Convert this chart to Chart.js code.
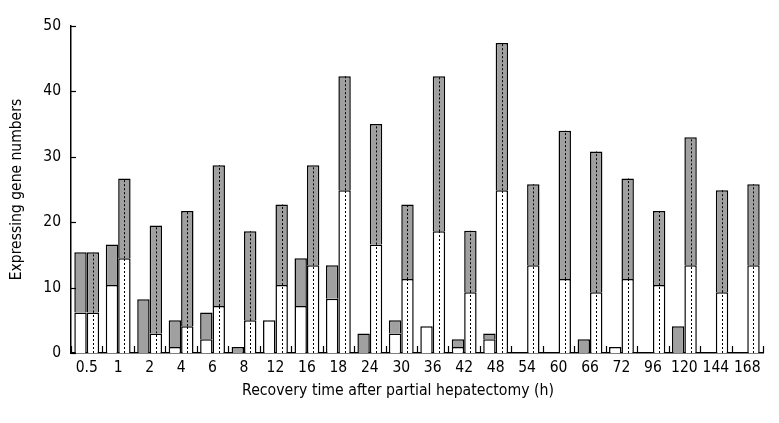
<!DOCTYPE html>
<html>
<head>
<meta charset="utf-8">
<script src="https://cdn.jsdelivr.net/npm/chart.js@4/dist/chart.umd.min.js"></script>
<style>
  html, body { margin: 0; padding: 0; background: #fff; }
  #wrap { width: 779px; height: 423px; position: relative; }
</style>
</head>
<body>
<div id="wrap"><canvas id="chart"></canvas></div>
<script>
// recovery time points (h)
const categories = ['0.5', '1', '2', '4', '6', '8', '12', '16', '18', '24', '30', '36', '42', '48', '54', '60', '66', '72', '96', '120', '144', '168'];

// left bar (solid outline): white lower part and grey upper part
const solidWhite = [6.2, 10.4, null, 0.9, 2.1, null, 5.0, 7.2, 8.3, null, 3.0, 4.1, 0.9, 2.1, null, null, null, 0.9, null, null, null, null];
const solidGrey  = [9.2, 6.2, 8.2, 4.1, 4.1, 0.9, null, 7.3, 5.1, 3.0, 2.0, null, 1.2, 0.9, null, null, 2.1, null, null, 4.1, null, null];

// right bar (dotted centre line): white lower part and grey upper part
const dottedWhite = [6.2, 14.5, 3.0, 4.1, 7.2, 5.0, 10.4, 13.4, 24.9, 16.6, 11.3, 18.6, 9.3, 24.9, 13.4, 11.3, 9.3, 11.3, 10.4, 13.4, 9.3, 13.4];
const dottedGrey  = [9.2, 12.2, 16.5, 17.6, 21.5, 13.6, 12.3, 15.3, 17.4, 18.4, 11.4, 23.7, 9.4, 22.5, 12.4, 22.7, 21.5, 15.4, 11.3, 19.6, 15.6, 12.4];

const yTicks = [0, 10, 20, 30, 40, 50];

const FONT = '"DejaVu Sans Condensed", "Liberation Sans Narrow", Arial, sans-serif';
const GREY = '#a0a0a0';

function barSet(data, fill, stack) {
    return {
        data: data,
        backgroundColor: fill,
        borderColor: '#000',
        borderWidth: 1.5,
        stack: stack,
        barPercentage: 1,
        categoryPercentage: 0.79
    };
}

// dotted centre lines, inward ticks and the x axis title
const extras = {
    id: 'extras',
    afterDatasetsDraw(chart) {
        const ctx = chart.ctx;
        ctx.save();
        ctx.strokeStyle = '#000';
        ctx.lineWidth = 1;
        ctx.setLineDash([2, 2]);
        [2, 3].forEach(di => {
            chart.getDatasetMeta(di).data.forEach(bar => {
                if (bar.skip || isNaN(bar.y)) return;
                const x = Math.round(bar.x) + 0.5;
                ctx.beginPath();
                ctx.moveTo(x, bar.base);
                ctx.lineTo(x, bar.y);
                ctx.stroke();
            });
        });
        ctx.restore();
    },
    afterDraw(chart) {
        const ctx = chart.ctx;
        const xs = chart.scales.x, ys = chart.scales.y;
        const area = chart.chartArea;
        ctx.save();
        ctx.strokeStyle = '#000';
        ctx.lineWidth = 1.2;
        yTicks.forEach(v => {
            const y = Math.round(ys.getPixelForValue(v)) + 0.5;
            ctx.beginPath();
            ctx.moveTo(area.left, y);
            ctx.lineTo(area.left + 5, y);
            ctx.stroke();
        });
        for (let i = 0; i <= categories.length; i++) {
            const x = Math.round(xs.getPixelForValue(i - 0.5)) + 0.5;
            ctx.beginPath();
            ctx.moveTo(x, area.bottom);
            ctx.lineTo(x, area.bottom - 7);
            ctx.stroke();
        }
        ctx.fillStyle = '#000';
        ctx.font = '15.7px ' + FONT;
        ctx.textAlign = 'center';
        ctx.textBaseline = 'middle';
        ctx.fillText('Recovery time after partial hepatectomy (h)', 398, 391);
        ctx.restore();
    }
};

new Chart(document.getElementById('chart'), {
    type: 'bar',
    data: {
        labels: categories,
        datasets: [
            barSet(solidWhite, '#fff', 'solid'),
            barSet(solidGrey, GREY, 'solid'),
            barSet(dottedWhite, '#fff', 'dotted'),
            barSet(dottedGrey, GREY, 'dotted')
        ]
    },
    options: {
        responsive: true,
        maintainAspectRatio: false,
        animation: false,
        layout: { padding: { top: 26, right: 16, bottom: 0, left: 0 } },
        plugins: {
            legend: { display: false },
            tooltip: { enabled: false }
        },
        scales: {
            x: {
                stacked: true,
                grid: { display: false, drawTicks: false },
                border: { display: true, color: '#000', width: 1.5 },
                ticks: {
                    color: '#000',
                    font: { family: FONT, size: 15.5 },
                    padding: 6,
                    maxRotation: 0,
                    autoSkip: false
                },
                afterFit(scale) { scale.height = 70; }
            },
            y: {
                stacked: true,
                min: 0,
                max: 50,
                grid: { display: false, drawTicks: false },
                border: { display: true, color: '#000', width: 1.5 },
                ticks: {
                    stepSize: 10,
                    color: '#000',
                    font: { family: FONT, size: 15.5 },
                    padding: 10
                },
                title: {
                    display: true,
                    text: 'Expressing gene numbers',
                    color: '#000',
                    font: { family: FONT, size: 15.5 },
                    padding: { top: 8, bottom: 0 }
                },
                afterFit(scale) { scale.width = 71; }
            }
        }
    },
    plugins: [extras]
});
</script>
</body>
</html>
